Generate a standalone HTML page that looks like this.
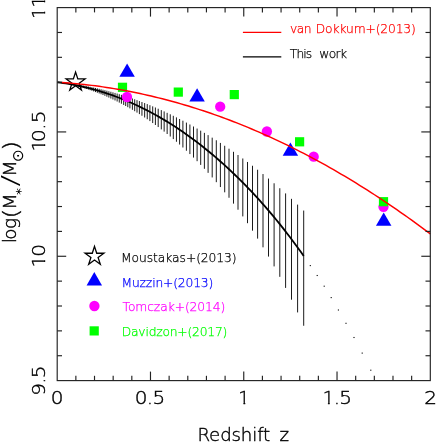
<!DOCTYPE html>
<html><head><meta charset="utf-8"><title>Stellar mass vs redshift</title>
<style>
html,body{margin:0;padding:0;background:#fff;}
svg{display:block;will-change:transform;}
</style></head><body>
<svg width="436" height="442" viewBox="0 0 436 442" font-family="'DejaVu Sans Light','Liberation Sans',sans-serif">
<rect width="436" height="442" fill="#fff"/>
<g stroke="#000" stroke-width="0.9" fill="none">
<line x1="303.70" y1="210.55" x2="303.70" y2="325.76"/>
<line x1="297.60" y1="204.61" x2="297.60" y2="312.43"/>
<line x1="291.50" y1="198.84" x2="291.50" y2="299.69"/>
<line x1="285.60" y1="193.41" x2="285.60" y2="287.92"/>
<line x1="279.80" y1="188.24" x2="279.80" y2="276.84"/>
<line x1="274.10" y1="183.29" x2="274.10" y2="266.41"/>
<line x1="268.50" y1="178.57" x2="268.50" y2="256.59"/>
<line x1="263.00" y1="174.05" x2="263.00" y2="247.33"/>
<line x1="257.60" y1="169.73" x2="257.60" y2="238.61"/>
<line x1="252.50" y1="165.76" x2="252.50" y2="230.68"/>
<line x1="247.50" y1="161.97" x2="247.50" y2="223.20"/>
<line x1="242.80" y1="158.48" x2="242.80" y2="216.41"/>
<line x1="238.00" y1="155.00" x2="238.00" y2="209.71"/>
<line x1="233.50" y1="151.81" x2="233.50" y2="203.64"/>
<line x1="229.00" y1="148.70" x2="229.00" y2="197.76"/>
<line x1="224.70" y1="145.78" x2="224.70" y2="192.32"/>
<line x1="220.40" y1="142.93" x2="220.40" y2="187.05"/>
<line x1="216.30" y1="140.26" x2="216.30" y2="182.18"/>
<line x1="212.20" y1="137.66" x2="212.20" y2="177.44"/>
<line x1="208.10" y1="135.11" x2="208.10" y2="172.85"/>
<line x1="204.40" y1="132.86" x2="204.40" y2="168.82"/>
<line x1="200.70" y1="130.66" x2="200.70" y2="164.91"/>
<line x1="197.10" y1="128.56" x2="197.10" y2="161.20"/>
<line x1="193.50" y1="126.50" x2="193.50" y2="157.59"/>
<line x1="189.90" y1="124.49" x2="189.90" y2="154.07"/>
<line x1="186.40" y1="122.58" x2="186.40" y2="150.75"/>
<line x1="182.90" y1="120.71" x2="182.90" y2="147.51"/>
<line x1="179.60" y1="118.99" x2="179.60" y2="144.54"/>
<line x1="176.45" y1="117.38" x2="176.45" y2="141.78"/>
<line x1="173.30" y1="115.80" x2="173.30" y2="139.08"/>
<line x1="170.25" y1="114.31" x2="170.25" y2="136.53"/>
<line x1="167.15" y1="112.83" x2="167.15" y2="134.00"/>
<line x1="164.15" y1="111.42" x2="164.15" y2="131.62"/>
<line x1="161.30" y1="110.12" x2="161.30" y2="129.41"/>
<line x1="158.20" y1="108.73" x2="158.20" y2="127.06"/>
<line x1="155.40" y1="107.51" x2="155.40" y2="124.99"/>
<line x1="152.70" y1="106.35" x2="152.70" y2="123.05"/>
<line x1="149.90" y1="105.18" x2="149.90" y2="121.08"/>
<line x1="147.25" y1="104.10" x2="147.25" y2="119.26"/>
<line x1="144.65" y1="103.06" x2="144.65" y2="117.51"/>
<line x1="141.95" y1="102.01" x2="141.95" y2="115.74"/>
<line x1="139.40" y1="101.04" x2="139.40" y2="114.12"/>
<line x1="137.00" y1="100.15" x2="137.00" y2="112.62"/>
<line x1="134.70" y1="99.31" x2="134.70" y2="111.21"/>
<line x1="132.40" y1="98.50" x2="132.40" y2="109.84"/>
<line x1="129.90" y1="97.63" x2="129.90" y2="108.39"/>
<line x1="127.80" y1="96.92" x2="127.80" y2="107.19"/>
<line x1="125.70" y1="96.22" x2="125.70" y2="106.03"/>
<line x1="123.70" y1="95.57" x2="123.70" y2="104.94"/>
<line x1="121.40" y1="94.85" x2="121.40" y2="103.72"/>
<line x1="119.27" y1="94.19" x2="119.27" y2="102.61"/>
<line x1="117.13" y1="93.55" x2="117.13" y2="101.53"/>
<line x1="115.02" y1="92.93" x2="115.02" y2="100.48"/>
<line x1="112.94" y1="92.33" x2="112.94" y2="99.48"/>
<line x1="110.89" y1="91.76" x2="110.89" y2="98.52"/>
<line x1="108.87" y1="91.22" x2="108.87" y2="97.59"/>
<line x1="106.88" y1="90.69" x2="106.88" y2="96.71"/>
<line x1="104.91" y1="90.19" x2="104.91" y2="95.85"/>
<line x1="102.98" y1="89.70" x2="102.98" y2="95.03"/>
<line x1="101.07" y1="89.24" x2="101.07" y2="94.25"/>
<line x1="99.19" y1="88.80" x2="99.19" y2="93.49"/>
<line x1="97.33" y1="88.37" x2="97.33" y2="92.77"/>
<line x1="95.50" y1="87.96" x2="95.50" y2="92.08"/>
<line x1="93.69" y1="87.57" x2="93.69" y2="91.41"/>
<line x1="91.90" y1="87.20" x2="91.90" y2="90.77"/>
<line x1="90.14" y1="86.84" x2="90.14" y2="90.16"/>
<line x1="88.40" y1="86.50" x2="88.40" y2="89.58"/>
<line x1="86.68" y1="86.17" x2="86.68" y2="89.01"/>
<line x1="84.99" y1="85.86" x2="84.99" y2="88.48"/>
<line x1="83.32" y1="85.56" x2="83.32" y2="87.97"/>
<line x1="81.66" y1="85.27" x2="81.66" y2="87.48"/>
<line x1="80.03" y1="85.00" x2="80.03" y2="87.01"/>
<line x1="78.41" y1="84.74" x2="78.41" y2="86.57"/>
<line x1="76.82" y1="84.50" x2="76.82" y2="86.14"/>
<line x1="75.24" y1="84.26" x2="75.24" y2="85.74"/>
<line x1="73.69" y1="84.04" x2="73.69" y2="85.35"/>
<line x1="72.15" y1="83.83" x2="72.15" y2="84.99"/>
<line x1="70.63" y1="83.63" x2="70.63" y2="84.64"/>
</g>
<path d="M57.50 82.26 L60.27 82.62 L63.03 83.01 L65.80 83.43 L68.57 83.89 L71.33 84.37 L74.10 84.88 L76.86 85.43 L79.63 86.00 L82.40 86.61 L85.16 87.26 L87.93 87.93 L90.70 88.63 L93.46 89.37 L96.23 90.14 L98.99 90.95 L101.76 91.79 L104.53 92.66 L107.29 93.56 L110.06 94.50 L112.83 95.47 L115.59 96.48 L118.36 97.52 L121.12 98.59 L123.89 99.70 L126.66 100.85 L129.42 102.02 L132.19 103.24 L134.96 104.49 L137.72 105.77 L140.49 107.09 L143.26 108.45 L146.02 109.84 L148.79 111.27 L151.55 112.73 L154.32 114.24 L157.09 115.77 L159.85 117.35 L162.62 118.96 L165.39 120.61 L168.15 122.30 L170.92 124.02 L173.68 125.78 L176.45 127.58 L179.22 129.42 L181.98 131.30 L184.75 133.22 L187.52 135.17 L190.28 137.16 L193.05 139.19 L195.81 141.27 L198.58 143.38 L201.35 145.53 L204.11 147.72 L206.88 149.95 L209.65 152.22 L212.41 154.53 L215.18 156.88 L217.94 159.27 L220.71 161.70 L223.48 164.18 L226.24 166.69 L229.01 169.25 L231.78 171.85 L234.54 174.49 L237.31 177.17 L240.08 179.89 L242.84 182.66 L245.61 185.47 L248.37 188.33 L251.14 191.24 L253.91 194.19 L256.67 197.18 L259.44 200.23 L262.21 203.32 L264.97 206.46 L267.74 209.65 L270.50 212.89 L273.27 216.18 L276.04 219.53 L278.80 222.92 L281.57 226.37 L284.34 229.87 L287.10 233.43 L289.87 237.04 L292.63 240.70 L295.40 244.42 L298.17 248.20 L300.93 252.04 L303.70 255.93" fill="none" stroke="#000" stroke-width="1.8"/>
<rect x="309.75" y="265.05" width="1.1" height="1.1" fill="#000"/>
<rect x="316.65" y="274.95" width="1.1" height="1.1" fill="#000"/>
<rect x="323.65" y="285.65" width="1.1" height="1.1" fill="#000"/>
<rect x="330.65" y="297.05" width="1.1" height="1.1" fill="#000"/>
<rect x="337.85" y="309.45" width="1.1" height="1.1" fill="#000"/>
<rect x="345.45" y="322.75" width="1.1" height="1.1" fill="#000"/>
<rect x="353.45" y="336.95" width="1.1" height="1.1" fill="#000"/>
<rect x="361.65" y="352.55" width="1.1" height="1.1" fill="#000"/>
<rect x="370.25" y="369.65" width="1.1" height="1.1" fill="#000"/>
<polygon points="127.10,63.47 119.37,76.87 134.83,76.87" fill="#0000ff"/>
<polygon points="197.10,88.17 189.37,101.56 204.83,101.56" fill="#0000ff"/>
<polygon points="290.40,142.47 282.67,155.87 298.13,155.87" fill="#0000ff"/>
<polygon points="383.70,212.47 375.97,225.87 391.43,225.87" fill="#0000ff"/>
<circle cx="127.00" cy="97.00" r="5.15" fill="#ff00ff"/>
<circle cx="220.20" cy="106.70" r="5.15" fill="#ff00ff"/>
<circle cx="266.90" cy="131.50" r="5.15" fill="#ff00ff"/>
<circle cx="313.70" cy="156.70" r="5.15" fill="#ff00ff"/>
<circle cx="383.50" cy="206.80" r="5.15" fill="#ff00ff"/>
<rect x="117.90" y="82.70" width="9.2" height="9.2" fill="#00ff00"/>
<rect x="173.70" y="87.50" width="9.2" height="9.2" fill="#00ff00"/>
<rect x="229.70" y="90.00" width="9.2" height="9.2" fill="#00ff00"/>
<rect x="295.00" y="137.20" width="9.2" height="9.2" fill="#00ff00"/>
<rect x="378.90" y="197.10" width="9.2" height="9.2" fill="#00ff00"/>
<polygon points="75.60,72.10 77.82,78.94 85.02,78.94 79.20,83.17 81.42,90.01 75.60,85.78 69.78,90.01 72.00,83.17 66.18,78.94 73.38,78.94" fill="none" stroke="#000" stroke-width="1.3" stroke-linejoin="miter"/>
<path d="M61.86 82.50 L65.59 82.77 L69.31 83.06 L73.03 83.38 L76.75 83.73 L80.47 84.10 L84.19 84.50 L87.91 84.92 L91.64 85.37 L95.36 85.84 L99.08 86.34 L102.80 86.87 L106.52 87.42 L110.24 88.00 L113.97 88.60 L117.69 89.23 L121.41 89.88 L125.13 90.56 L128.85 91.27 L132.57 92.00 L136.30 92.76 L140.02 93.54 L143.74 94.35 L147.46 95.18 L151.18 96.04 L154.90 96.93 L158.62 97.84 L162.35 98.78 L166.07 99.74 L169.79 100.73 L173.51 101.74 L177.23 102.78 L180.95 103.85 L184.68 104.94 L188.40 106.06 L192.12 107.20 L195.84 108.37 L199.56 109.57 L203.28 110.79 L207.01 112.03 L210.73 113.30 L214.45 114.60 L218.17 115.92 L221.89 117.27 L225.61 118.65 L229.33 120.05 L233.06 121.48 L236.78 122.93 L240.50 124.40 L244.22 125.91 L247.94 127.44 L251.66 128.99 L255.39 130.57 L259.11 132.18 L262.83 133.81 L266.55 135.47 L270.27 137.15 L273.99 138.86 L277.72 140.60 L281.44 142.36 L285.16 144.14 L288.88 145.96 L292.60 147.79 L296.32 149.66 L300.04 151.55 L303.77 153.46 L307.49 155.40 L311.21 157.37 L314.93 159.36 L318.65 161.38 L322.37 163.42 L326.10 165.49 L329.82 167.59 L333.54 169.71 L337.26 171.86 L340.98 174.03 L344.70 176.23 L348.43 178.45 L352.15 180.70 L355.87 182.98 L359.59 185.28 L363.31 187.60 L367.03 189.96 L370.75 192.33 L374.48 194.74 L378.20 197.17 L381.92 199.62 L385.64 202.11 L389.36 204.61 L393.08 207.14 L396.81 209.70 L400.53 212.29 L404.25 214.90 L407.97 217.53 L411.69 220.19 L415.41 222.88 L419.14 225.59 L422.86 228.33 L426.58 231.10 L430.30 233.89" fill="none" stroke="#ff0000" stroke-width="1.45"/>
<g stroke="#222" stroke-width="1.15" fill="none">
<rect x="57.20" y="7.60" width="373.10" height="373.00"/>
<line x1="75.86" y1="380.60" x2="75.86" y2="375.80"/><line x1="75.86" y1="7.60" x2="75.86" y2="12.40"/>
<line x1="94.51" y1="380.60" x2="94.51" y2="375.80"/><line x1="94.51" y1="7.60" x2="94.51" y2="12.40"/>
<line x1="113.17" y1="380.60" x2="113.17" y2="375.80"/><line x1="113.17" y1="7.60" x2="113.17" y2="12.40"/>
<line x1="131.82" y1="380.60" x2="131.82" y2="375.80"/><line x1="131.82" y1="7.60" x2="131.82" y2="12.40"/>
<line x1="150.48" y1="380.60" x2="150.48" y2="371.60"/><line x1="150.48" y1="7.60" x2="150.48" y2="16.60"/>
<line x1="169.13" y1="380.60" x2="169.13" y2="375.80"/><line x1="169.13" y1="7.60" x2="169.13" y2="12.40"/>
<line x1="187.79" y1="380.60" x2="187.79" y2="375.80"/><line x1="187.79" y1="7.60" x2="187.79" y2="12.40"/>
<line x1="206.44" y1="380.60" x2="206.44" y2="375.80"/><line x1="206.44" y1="7.60" x2="206.44" y2="12.40"/>
<line x1="225.10" y1="380.60" x2="225.10" y2="375.80"/><line x1="225.10" y1="7.60" x2="225.10" y2="12.40"/>
<line x1="243.75" y1="380.60" x2="243.75" y2="371.60"/><line x1="243.75" y1="7.60" x2="243.75" y2="16.60"/>
<line x1="262.41" y1="380.60" x2="262.41" y2="375.80"/><line x1="262.41" y1="7.60" x2="262.41" y2="12.40"/>
<line x1="281.06" y1="380.60" x2="281.06" y2="375.80"/><line x1="281.06" y1="7.60" x2="281.06" y2="12.40"/>
<line x1="299.72" y1="380.60" x2="299.72" y2="375.80"/><line x1="299.72" y1="7.60" x2="299.72" y2="12.40"/>
<line x1="318.37" y1="380.60" x2="318.37" y2="375.80"/><line x1="318.37" y1="7.60" x2="318.37" y2="12.40"/>
<line x1="337.03" y1="380.60" x2="337.03" y2="371.60"/><line x1="337.03" y1="7.60" x2="337.03" y2="16.60"/>
<line x1="355.68" y1="380.60" x2="355.68" y2="375.80"/><line x1="355.68" y1="7.60" x2="355.68" y2="12.40"/>
<line x1="374.34" y1="380.60" x2="374.34" y2="375.80"/><line x1="374.34" y1="7.60" x2="374.34" y2="12.40"/>
<line x1="392.99" y1="380.60" x2="392.99" y2="375.80"/><line x1="392.99" y1="7.60" x2="392.99" y2="12.40"/>
<line x1="411.65" y1="380.60" x2="411.65" y2="375.80"/><line x1="411.65" y1="7.60" x2="411.65" y2="12.40"/>
<line x1="57.20" y1="355.73" x2="62.00" y2="355.73"/><line x1="430.30" y1="355.73" x2="425.50" y2="355.73"/>
<line x1="57.20" y1="330.87" x2="62.00" y2="330.87"/><line x1="430.30" y1="330.87" x2="425.50" y2="330.87"/>
<line x1="57.20" y1="306.00" x2="62.00" y2="306.00"/><line x1="430.30" y1="306.00" x2="425.50" y2="306.00"/>
<line x1="57.20" y1="281.13" x2="62.00" y2="281.13"/><line x1="430.30" y1="281.13" x2="425.50" y2="281.13"/>
<line x1="57.20" y1="256.27" x2="66.20" y2="256.27"/><line x1="430.30" y1="256.27" x2="421.30" y2="256.27"/>
<line x1="57.20" y1="231.40" x2="62.00" y2="231.40"/><line x1="430.30" y1="231.40" x2="425.50" y2="231.40"/>
<line x1="57.20" y1="206.53" x2="62.00" y2="206.53"/><line x1="430.30" y1="206.53" x2="425.50" y2="206.53"/>
<line x1="57.20" y1="181.67" x2="62.00" y2="181.67"/><line x1="430.30" y1="181.67" x2="425.50" y2="181.67"/>
<line x1="57.20" y1="156.80" x2="62.00" y2="156.80"/><line x1="430.30" y1="156.80" x2="425.50" y2="156.80"/>
<line x1="57.20" y1="131.93" x2="66.20" y2="131.93"/><line x1="430.30" y1="131.93" x2="421.30" y2="131.93"/>
<line x1="57.20" y1="107.07" x2="62.00" y2="107.07"/><line x1="430.30" y1="107.07" x2="425.50" y2="107.07"/>
<line x1="57.20" y1="82.20" x2="62.00" y2="82.20"/><line x1="430.30" y1="82.20" x2="425.50" y2="82.20"/>
<line x1="57.20" y1="57.33" x2="62.00" y2="57.33"/><line x1="430.30" y1="57.33" x2="425.50" y2="57.33"/>
<line x1="57.20" y1="32.47" x2="62.00" y2="32.47"/><line x1="430.30" y1="32.47" x2="425.50" y2="32.47"/>
</g>
<text transform="translate(0 404.00)" font-size="18.2" fill="#000" stroke="#000" stroke-width="0.4"><tspan x="50.82" textLength="12.73" lengthAdjust="spacingAndGlyphs">0</tspan></text>
<text transform="translate(0 404.00)" font-size="18.2" fill="#000" stroke="#000" stroke-width="0.4"><tspan x="134.87" textLength="12.73" lengthAdjust="spacingAndGlyphs">0</tspan><tspan x="147.11">.</tspan><tspan x="152.50" textLength="12.73" lengthAdjust="spacingAndGlyphs">5</tspan></text>
<clipPath id="nf1"><path clip-rule="evenodd" d="M232.28,-22H256.28V8H232.28ZM238.78,-1.25H243.48V3H238.78ZM245.23,-1.25H249.78V3H245.23Z"/></clipPath><text transform="translate(0 404.00)" font-size="18.2" fill="#000" stroke="#000" stroke-width="0.4" clip-path="url(#nf1)"><tspan x="238.28">1</tspan></text>
<clipPath id="nf2"><path clip-rule="evenodd" d="M316.73,-22H357.35V8H316.73ZM323.23,-1.25H327.93V3H323.23ZM329.68,-1.25H334.23V3H329.68Z"/></clipPath><text transform="translate(0 404.00)" font-size="18.2" fill="#000" stroke="#000" stroke-width="0.4" clip-path="url(#nf2)"><tspan x="322.73">1</tspan><tspan x="333.91">.</tspan><tspan x="339.35" textLength="12.73" lengthAdjust="spacingAndGlyphs">5</tspan></text>
<text transform="translate(0 404.00)" font-size="18.2" fill="#000" stroke="#000" stroke-width="0.4"><tspan x="424.34" textLength="12.73" lengthAdjust="spacingAndGlyphs">2</tspan></text>
<text transform="translate(45.00 0) rotate(-90)" font-size="18.2" fill="#000" stroke="#000" stroke-width="0.4"><tspan x="-395.87" textLength="12.73" lengthAdjust="spacingAndGlyphs">9</tspan><tspan x="-383.49">.</tspan><tspan x="-378.25" textLength="12.73" lengthAdjust="spacingAndGlyphs">5</tspan></text>
<clipPath id="nf3"><path clip-rule="evenodd" d="M-273.27,-22H-238.83V8H-273.27ZM-266.77,-1.25H-262.07V3H-266.77ZM-260.32,-1.25H-255.77V3H-260.32Z"/></clipPath><text transform="translate(45.00 0) rotate(-90)" font-size="18.2" fill="#000" stroke="#000" stroke-width="0.4" clip-path="url(#nf3)"><tspan x="-267.27">1</tspan><tspan x="-256.83" textLength="12.73" lengthAdjust="spacingAndGlyphs">0</tspan></text>
<clipPath id="nf4"><path clip-rule="evenodd" d="M-157.32,-22H-105.35V8H-157.32ZM-150.82,-1.25H-146.12V3H-150.82ZM-144.37,-1.25H-139.82V3H-144.37Z"/></clipPath><text transform="translate(45.00 0) rotate(-90)" font-size="18.2" fill="#000" stroke="#000" stroke-width="0.4" clip-path="url(#nf4)"><tspan x="-151.32">1</tspan><tspan x="-141.93" textLength="12.73" lengthAdjust="spacingAndGlyphs">0</tspan><tspan x="-129.39">.</tspan><tspan x="-123.35" textLength="12.73" lengthAdjust="spacingAndGlyphs">5</tspan></text>
<clipPath id="nf5"><path clip-rule="evenodd" d="M-24.67,-22H10.53V8H-24.67ZM-18.17,-1.25H-13.47V3H-18.17ZM-11.72,-1.25H-7.17V3H-11.72ZM-6.97,-1.25H-2.27V3H-6.97ZM-0.52,-1.25H4.03V3H-0.52Z"/></clipPath><text transform="translate(45.00 0) rotate(-90)" font-size="18.2" fill="#000" stroke="#000" stroke-width="0.4" clip-path="url(#nf5)"><tspan x="-18.67">1</tspan><tspan x="-7.47">1</tspan></text>
<text y="440.60" font-size="18.2" fill="#000" stroke="#000" stroke-width="0.4"><tspan x="197.45" textLength="72.75" lengthAdjust="spacing">Redshift</tspan> <tspan x="279.48" >z</tspan></text>
<text transform="translate(16.3 0) rotate(-90)" fill="#000" stroke="#000"><tspan x="-242.97" y="0.00" font-size="18.2" stroke-width="0.4">l</tspan><tspan x="-239.66" y="0.00" font-size="18.2" stroke-width="0.4">o</tspan><tspan x="-229.08" y="0.00" font-size="18.2" stroke-width="0.4">g</tspan><tspan x="-218.72" y="1.30" font-size="21.3" stroke-width="0.3" textLength="10.38" lengthAdjust="spacingAndGlyphs">(</tspan><tspan x="-210.03" y="0.00" font-size="18.2" stroke-width="0.4" textLength="16.96" lengthAdjust="spacingAndGlyphs">M</tspan><tspan x="-194.80" y="9.10" font-size="13" stroke-width="0.3">*</tspan><tspan x="-186.59" y="1.95" font-size="23.1" stroke-width="0" textLength="11.68" lengthAdjust="spacingAndGlyphs">/</tspan><tspan x="-177.03" y="0.00" font-size="18.2" stroke-width="0.4" textLength="16.96" lengthAdjust="spacingAndGlyphs">M</tspan><tspan x="-162.10" y="6.60" font-size="15.5" stroke-width="0" font-family="'DejaVu Sans',sans-serif">⊙</tspan><tspan x="-151.12" y="1.30" font-size="21.3" stroke-width="0.3" textLength="10.38" lengthAdjust="spacingAndGlyphs">)</tspan></text>
<line x1="242.9" y1="32.4" x2="281.3" y2="32.4" stroke="#ff0000" stroke-width="1.4"/>
<line x1="242.9" y1="56.9" x2="281.3" y2="56.9" stroke="#000" stroke-width="1.4"/>
<text y="32.90" font-size="12.3" fill="#ff0000" stroke="#ff0000" stroke-width="0.25"><tspan x="289.95" textLength="21.50" lengthAdjust="spacing">van</tspan> <tspan x="315.68" textLength="100.19" lengthAdjust="spacing">Dokkum+(2013)</tspan></text>
<text y="57.70" font-size="12.3" fill="#000" stroke="#000" stroke-width="0.25"><tspan x="289.78" textLength="22.45" lengthAdjust="spacing">This</tspan> <tspan x="319.33" textLength="27.83" lengthAdjust="spacing">work</tspan></text>
<text y="262.00" font-size="12.3" fill="#000" stroke="#000" stroke-width="0.25"><tspan x="121.08" textLength="115.56" lengthAdjust="spacing">Moustakas+(2013)</tspan></text>
<text y="286.50" font-size="12.3" fill="#0000ff" stroke="#0000ff" stroke-width="0.25"><tspan x="121.47" textLength="91.85" lengthAdjust="spacing">Muzzin+(2013)</tspan></text>
<text y="311.20" font-size="12.3" fill="#ff00ff" stroke="#ff00ff" stroke-width="0.25"><tspan x="122.56" textLength="102.76" lengthAdjust="spacing">Tomczak+(2014)</tspan></text>
<text y="335.90" font-size="12.3" fill="#00ff00" stroke="#00ff00" stroke-width="0.25"><tspan x="121.78" textLength="105.52" lengthAdjust="spacing">Davidzon+(2017)</tspan></text>
<polygon points="94.50,246.40 96.72,253.24 103.92,253.24 98.10,257.47 100.32,264.31 94.50,260.08 88.68,264.31 90.90,257.47 85.08,253.24 92.28,253.24" fill="none" stroke="#000" stroke-width="1.3" stroke-linejoin="miter"/>
<polygon points="94.30,272.07 86.57,285.46 102.03,285.46" fill="#0000ff"/>
<circle cx="94.4" cy="306" r="5.15" fill="#ff00ff"/>
<rect x="89.6" y="326.3" width="9.2" height="9.2" fill="#00ff00"/>
</svg>
</body></html>
